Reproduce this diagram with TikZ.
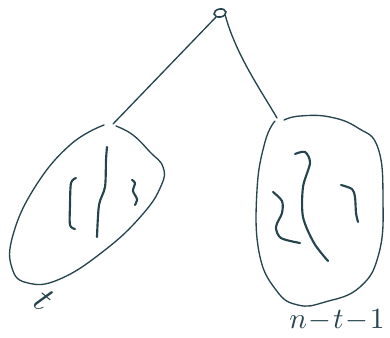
\documentclass[tikz,border=0pt]{standalone}
\usetikzlibrary{shapes.geometric}
\definecolor{ink}{RGB}{38,68,78}
\begin{document}
\begin{tikzpicture}[x=0.75pt,y=-0.75pt,
  pen/.style={draw=ink,line width=1pt,line cap=round,line join=round},
  squig/.style={draw=ink,line width=1.6pt,line cap=round,line join=round},
  lbl/.style={text=ink,inner sep=0pt}]
\useasboundingbox (0,0) rectangle (390,337);
% root
\node[ellipse,draw=ink,line width=1.2pt,minimum width=9pt,minimum height=6pt,inner sep=0pt,rotate=10] (root) at (220,13) {};
\coordinate (lt) at (113,124);
\coordinate (rt) at (277,118);
\draw[pen] (root.south west) -- (lt);
\draw[pen] (root.south east) .. controls (236,55) and (262,92) .. (rt);
% left blob
\draw[pen] plot[smooth,tension=0.75] coordinates {(104,125) (70,145) (35,187) (13,235) (12,268) (28,283) (60,279) (105,250) (142,215) (161,186) (163,167) (150,152) (133,135) (116,126)};
% right blob
\draw[pen] plot[smooth,tension=0.75] coordinates {(275,121) (265,142) (257,190) (259,252) (276,290) (298,305) (325,302) (360,287) (379,253) (383,200) (378,148) (358,128) (330,117) (300,116) (284,120)};
% left squiggles
\draw[squig] plot[smooth] coordinates {(76,178) (71,183) (70,205) (70,225) (75,229)};
\draw[squig] plot[smooth] coordinates {(107,147) (106,160) (105,187) (99,205) (97,237)};
\draw[squig] plot[smooth] coordinates {(132,180) (135,183) (133,191) (137,199) (135,205)};
% right squiggles
\draw[squig] plot[smooth] coordinates {(295,154) (305,152) (310,163) (303,187) (303,217) (314,243) (328,261)};
\draw[squig] plot[smooth] coordinates {(273,192) (282,201) (282,213) (276,227) (281,238) (300,243)};
\draw[squig] plot[smooth] coordinates {(341,185) (352,189) (355,197) (356,213) (358,222)};
% labels
\node[lbl,scale=2.8,rotate=-40] (tl) at (44,300) {$t$};
\node[lbl,scale=2.2] (nl) at (337,320) {$n\!-\!t\!-\!1$};
\end{tikzpicture}
\end{document}
